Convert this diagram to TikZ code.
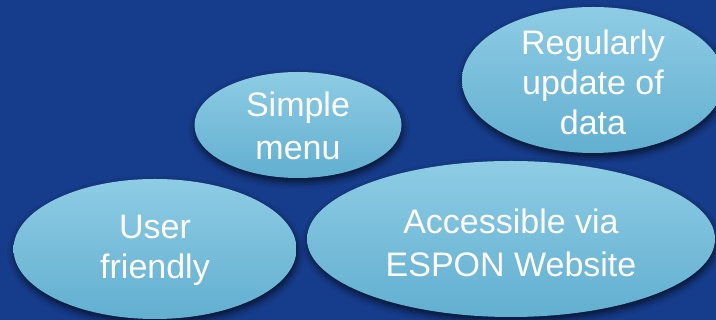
\documentclass[tikz,border=0pt]{standalone}
\usepackage{fontspec}
\setmainfont{Liberation Sans}
\usetikzlibrary{shapes.geometric,shadows.blur}
\definecolor{bgblue}{RGB}{22,60,140}
\definecolor{elltop}{RGB}{142,204,228}
\definecolor{ellbot}{RGB}{98,175,208}
\tikzset{
  bubble/.style={ellipse, inner sep=0pt, top color=elltop, bottom color=ellbot,
    blur shadow={shadow xshift=1pt, shadow yshift=-4pt, shadow blur radius=7pt, shadow opacity=70}},
  label text/.style={text=white, align=center, inner sep=0pt, font=\fontsize{34}{41}\selectfont},
  wide/.style={font=\fontsize{34}{43.5}\selectfont},
  tight/.style={font=\fontsize{34}{40}\selectfont},
}
\begin{document}
\begin{tikzpicture}[x=1pt,y=1pt]
\useasboundingbox (0,0) rectangle (716,320);
\fill[bgblue] (0,0) rectangle (716,320);
\clip (0,0) rectangle (716,320);
\node[bubble, minimum width=408pt, minimum height=156pt] (acc) at (511,81) {};
\node[label text, wide] (acct) at ([yshift=-4pt]acc.center) {Accessible via\\ESPON Website};
\node[bubble, minimum width=283pt, minimum height=140pt] (user) at (155,71) {};
\node[label text, tight] (usert) at ([yshift=-1pt]user.center) {User\\friendly};
\node[bubble, minimum width=207pt, minimum height=106pt] (simple) at (298,195) {};
\node[label text, wide] (simplet) at ([yshift=-1pt]simple.center) {Simple\\menu};
\node[bubble, minimum width=262pt, minimum height=146pt] (reg) at (593,240) {};
\node[label text, tight] (regt) at ([yshift=-2pt]reg.center) {Regularly\\update of\\data};
\end{tikzpicture}
\end{document}
